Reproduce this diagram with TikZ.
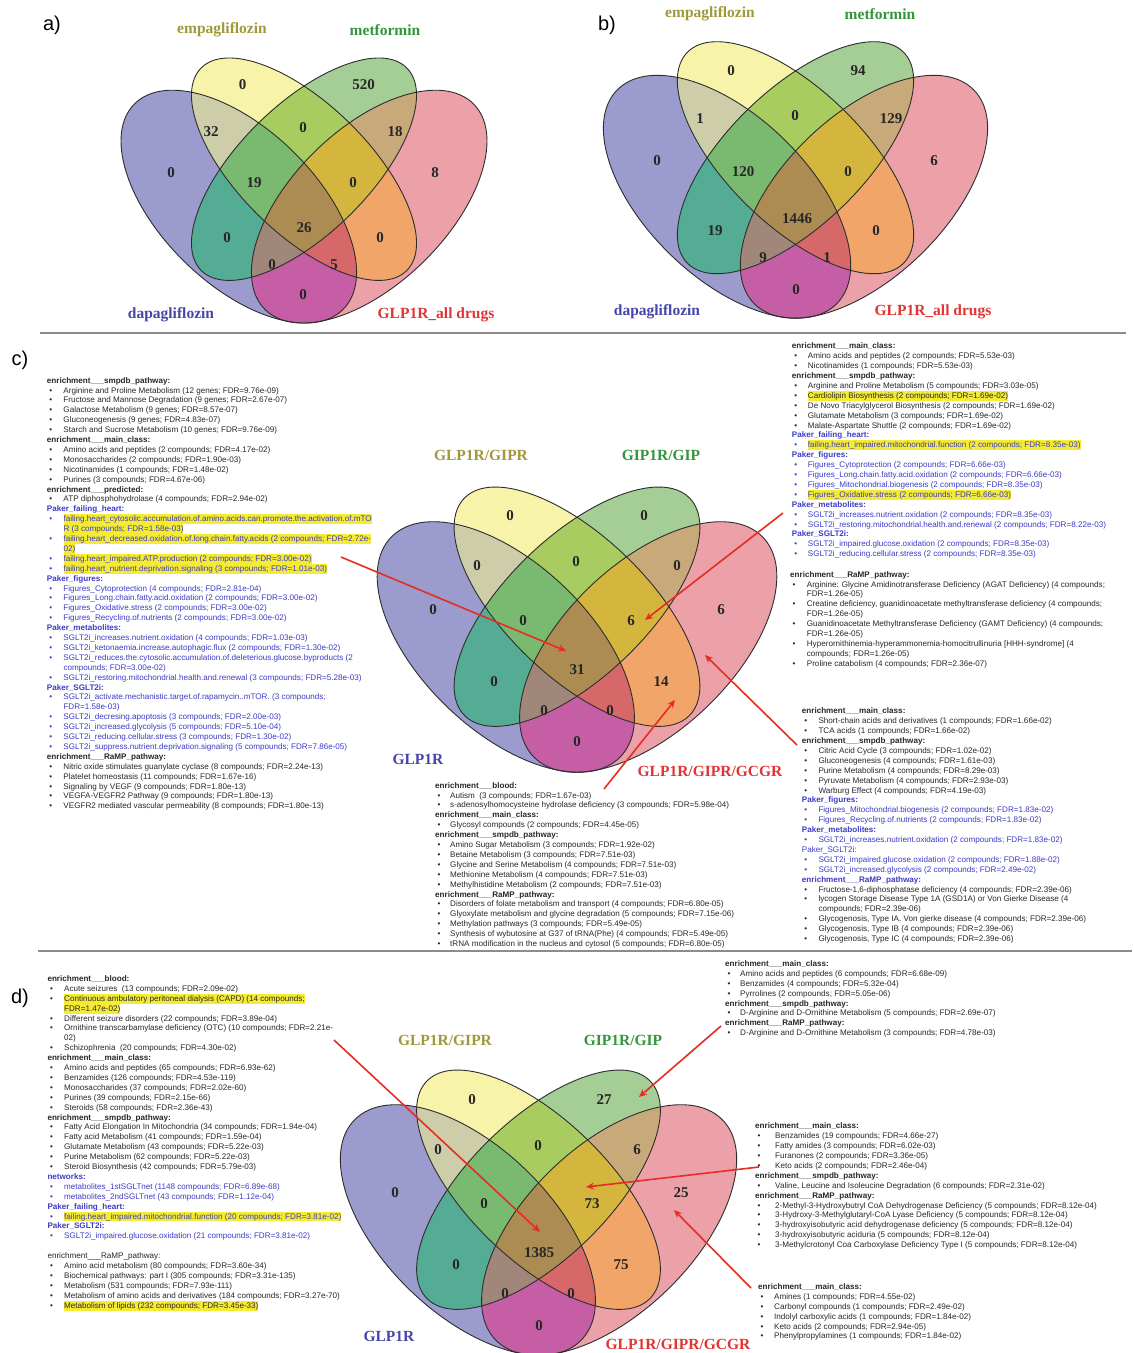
\documentclass[tikz,border=0pt]{standalone}
\usepackage{fontspec}
\setmainfont{Liberation Sans}
\newfontfamily\serifb{Liberation Serif}
\usetikzlibrary{arrows.meta}
% region colours
\definecolor{cB}{RGB}{155,155,205}
\definecolor{cY}{RGB}{247,244,170}
\definecolor{cG}{RGB}{165,205,150}
\definecolor{cP}{RGB}{236,160,168}
\definecolor{cBY}{RGB}{205,205,170}
\definecolor{cBG}{RGB}{85,172,148}
\definecolor{cBP}{RGB}{198,94,165}
\definecolor{cYG}{RGB}{168,204,96}
\definecolor{cYP}{RGB}{242,165,105}
\definecolor{cGP}{RGB}{200,170,122}
\definecolor{cBYG}{RGB}{122,186,112}
\definecolor{cBYP}{RGB}{214,104,106}
\definecolor{cBGP}{RGB}{160,135,122}
\definecolor{cYGP}{RGB}{212,182,62}
\definecolor{cBYGP}{RGB}{172,140,82}
\definecolor{lolive}{RGB}{160,152,58}
\definecolor{lgreen}{RGB}{52,150,60}
\definecolor{lblue}{RGB}{70,70,170}
\definecolor{lred}{RGB}{226,52,52}
\definecolor{tdark}{RGB}{40,40,40}
\definecolor{tblue}{RGB}{60,60,200}
\definecolor{hly}{RGB}{245,235,50}
\definecolor{ared}{RGB}{230,45,35}
\definecolor{sepgray}{RGB}{140,140,140}
\definecolor{vline}{RGB}{45,45,45}
\newlength\xind
\setlength\xind{16.5pt}
\newcommand\xbk[1]{\makebox[\xind][l]{\hspace{2.5pt}\textbullet}#1}
\newcommand\xbb[1]{{\color{tblue}\makebox[\xind][l]{\hspace{2.5pt}\textbullet}#1}}
\newcommand\xck[1]{\hspace*{\xind}#1}
\newcommand\xcb[1]{{\color{tblue}\hspace*{\xind}#1}}
\newcommand\xhk[1]{\textbf{#1}}
\newcommand\xhb[1]{{\color{tblue}\bfseries #1}}
\newcommand\xhl[1]{\setbox0=\hbox{#1}\rlap{\color{hly}\rule[-2.4pt]{\wd0}{9.8pt}}\box0}
% ellipse paths (units of 1/100, centre of inner ellipses at origin, y down)
\def\pB{(-15.5,9) ellipse [x radius=35, y radius=18.5, rotate=-45]}
\def\pP{(15.5,9) ellipse [x radius=35, y radius=18.5, rotate=45]}
\def\pY{(0,0) ellipse [x radius=34.5, y radius=15.5, rotate=-45]}
\def\pG{(0,0) ellipse [x radius=34.5, y radius=15.5, rotate=45]}
\newcommand\vtwo[3]{\begin{scope}\clip#2;\clip#3;\fill[#1](-60,-60) rectangle (60,60);\end{scope}}
\newcommand\vthree[4]{\begin{scope}\clip#2;\clip#3;\clip#4;\fill[#1](-60,-60) rectangle (60,60);\end{scope}}
\newcommand\fourvenn[4]{%
\begin{scope}[shift={(#1,#2)},xscale=#3,yscale=#4]
\fill[cB]\pB; \fill[cY]\pY; \fill[cG]\pG; \fill[cP]\pP;
\vtwo{cBY}{\pB}{\pY}
\vtwo{cBG}{\pB}{\pG}
\vtwo{cBP}{\pB}{\pP}
\vtwo{cYG}{\pY}{\pG}
\vtwo{cYP}{\pY}{\pP}
\vtwo{cGP}{\pG}{\pP}
\vthree{cBYG}{\pB}{\pY}{\pG}
\vthree{cBYP}{\pB}{\pY}{\pP}
\vthree{cBGP}{\pB}{\pG}{\pP}
\vthree{cYGP}{\pY}{\pG}{\pP}
\begin{scope}\clip\pB;\clip\pY;\clip\pG;\clip\pP;\fill[cBYGP](-60,-60) rectangle (60,60);\end{scope}
\draw[vedge]\pB; \draw[vedge]\pY; \draw[vedge]\pG; \draw[vedge]\pP;
\end{scope}}
\begin{document}
\begin{tikzpicture}[x=1pt,y=-1pt,
  vedge/.style={draw=vline,line width=0.9pt},
  vnum/.style={font=\serifb\bfseries\fontsize{15}{15}\selectfont,text=black!85,inner sep=0pt},
  vlab/.style={font=\serifb\bfseries\fontsize{15.5}{16}\selectfont,inner sep=0pt},
  plab/.style={font=\fontsize{20}{20}\selectfont,inner sep=0pt},
  tblock/.style={anchor=north west,inner sep=0pt,align=left,text=tdark,font={\fontsize{8.1}{9.9}\selectfont\setlength{\xind}{#1}}},
  tblock/.default=16.5pt,
  arr/.style={draw=ared,line width=1.6pt,-{Stealth[length=8pt,width=7pt]}},
  sepline/.style={draw=sepgray,line width=1.2pt}]
\useasboundingbox (0,0) rectangle (1134,1353);
\fill[white] (0,0) rectangle (1134,1353);
% separators
\coordinate (s1a) at (40,333); \coordinate (s1b) at (1126,333);
\coordinate (s2a) at (38,951); \coordinate (s2b) at (1132,951);
\draw[sepline] (s1a) -- (s1b);
\draw[sepline] (s2a) -- (s2b);
% panel letters
\node[plab] (pa) at (52,25) {a)};
\node[plab] (pb) at (607,25) {b)};
\node[plab] (pc) at (20,360) {c)};
\node[plab] (pd) at (20,998) {d)};
% ---------- Venn a
\fourvenn{304}{169.2}{4.207}{4.158}
\node[vnum] (a1) at (242.7,85) {0};
\node[vnum] (a2) at (363.5,85) {520};
\node[vnum] (a3) at (211,132) {32};
\node[vnum] (a4) at (303,128) {0};
\node[vnum] (a5) at (395,132) {18};
\node[vnum] (a6) at (171,173) {0};
\node[vnum] (a7) at (254,183) {19};
\node[vnum] (a8) at (353,183) {0};
\node[vnum] (a9) at (435,173) {8};
\node[vnum] (a10) at (304,228) {26};
\node[vnum] (a11) at (227,238) {0};
\node[vnum] (a12) at (380,238) {0};
\node[vnum] (a13) at (272,265) {0};
\node[vnum] (a14) at (334,265) {5};
\node[vnum] (a15) at (303,295) {0};
\node[vlab,text=lolive] (la1) at (222,30) {empagliflozin};
\node[vlab,text=lgreen] (la2) at (385,30) {metformin};
\node[vlab,text=lblue] (la3) at (171,315) {dapagliflozin};
\node[vlab,text=lred] (la4) at (436,315) {GLP1R\_all drugs};
% ---------- Venn b
\fourvenn{795.5}{157.7}{4.417}{4.337}
\node[vnum] (b1) at (731,71) {0};
\node[vnum] (b2) at (858,71) {94};
\node[vnum] (b3) at (700,119) {1};
\node[vnum] (b4) at (795,116) {0};
\node[vnum] (b5) at (891,119) {129};
\node[vnum] (b6) at (657,161) {0};
\node[vnum] (b7) at (743,172) {120};
\node[vnum] (b8) at (848,172) {0};
\node[vnum] (b9) at (934,161) {6};
\node[vnum] (b10) at (797,219) {1446};
\node[vnum] (b11) at (715,231) {19};
\node[vnum] (b12) at (876,231) {0};
\node[vnum] (b13) at (763,258) {9};
\node[vnum] (b14) at (827,258) {1};
\node[vnum] (b15) at (796,290) {0};
\node[vlab,text=lolive] (lb1) at (710,14) {empagliflozin};
\node[vlab,text=lgreen] (lb2) at (880,14) {metformin};
\node[vlab,text=lblue] (lb3) at (657,312) {dapagliflozin};
\node[vlab,text=lred] (lb4) at (933,312) {GLP1R\_all drugs};
% ---------- Venn c
\fourvenn{577}{606.7}{4.594}{4.474}
\node[vnum] (c1) at (510,516) {0};
\node[vnum] (c2) at (644,516) {0};
\node[vnum] (c3) at (477,566) {0};
\node[vnum] (c4) at (576,562) {0};
\node[vnum] (c5) at (677,566) {0};
\node[vnum] (c6) at (433,610) {0};
\node[vnum] (c7) at (523,621) {0};
\node[vnum] (c8) at (631,621) {6};
\node[vnum] (c9) at (721,610) {6};
\node[vnum] (c10) at (577,670) {31};
\node[vnum] (c11) at (494,682) {0};
\node[vnum] (c12) at (661,682) {14};
\node[vnum] (c13) at (544,711) {0};
\node[vnum] (c14) at (610,711) {0};
\node[vnum] (c15) at (577,742) {0};
\node[vlab,text=lolive] (lc1) at (481,455) {GLP1R/GIPR};
\node[vlab,text=lgreen] (lc2) at (661,455) {GIP1R/GIP};
\node[vlab,text=lblue] (lc3) at (418,759) {GLP1R};
\node[vlab,text=lred] (lc4) at (710,771) {GLP1R/GIPR/GCGR};
% ---------- Venn d
\fourvenn{538.5}{1189.7}{4.556}{4.474}
\node[vnum] (d1) at (472,1100) {0};
\node[vnum] (d2) at (604,1100) {27};
\node[vnum] (d3) at (438,1150) {0};
\node[vnum] (d4) at (538,1146) {0};
\node[vnum] (d5) at (637,1150) {6};
\node[vnum] (d6) at (395,1193) {0};
\node[vnum] (d7) at (484,1204) {0};
\node[vnum] (d8) at (592,1204) {73};
\node[vnum] (d9) at (681,1193) {25};
\node[vnum] (d10) at (539,1253) {1385};
\node[vnum] (d11) at (456,1265) {0};
\node[vnum] (d12) at (621,1265) {75};
\node[vnum] (d13) at (505,1294) {0};
\node[vnum] (d14) at (571,1294) {0};
\node[vnum] (d15) at (539,1326) {0};
\node[vlab,text=lolive] (ld1) at (445,1040) {GLP1R/GIPR};
\node[vlab,text=lgreen] (ld2) at (623,1040) {GIP1R/GIP};
\node[vlab,text=lblue] (ld3) at (389,1336) {GLP1R};
\node[vlab,text=lred] (ld4) at (678,1344) {GLP1R/GIPR/GCGR};
% ---------- text blocks panel c
\node[tblock=16.6pt] (cL) at (46.7,377.1) {%
\xhk{enrichment\_\_\_smpdb\_pathway:}\\
\xbk{Arginine and Proline Metabolism (12 genes; FDR=9.76e-09)}\\
\xbk{Fructose and Mannose Degradation (9 genes; FDR=2.67e-07)}\\
\xbk{Galactose Metabolism (9 genes; FDR=8.57e-07)}\\
\xbk{Gluconeogenesis (9 genes; FDR=4.83e-07)}\\
\xbk{Starch and Sucrose Metabolism (10 genes; FDR=9.76e-09)}\\
\xhk{enrichment\_\_\_main\_class:}\\
\xbk{Amino acids and peptides (2 compounds; FDR=4.17e-02)}\\
\xbk{Monosaccharides (2 compounds; FDR=1.90e-03)}\\
\xbk{Nicotinamides (1 compounds; FDR=1.48e-02)}\\
\xbk{Purines (3 compounds; FDR=4.67e-06)}\\
\xhk{enrichment\_\_\_predicted:}\\
\xbk{ATP diphosphohydrolase (4 compounds; FDR=2.94e-02)}\\
\xhb{Paker\_failing\_heart:}\\
\xbb{\xhl{failing.heart\_cytosolic.accumulation.of.amino.acids.can.promote.the.activation.of.mTO}}\\
\xcb{\xhl{R (3 compounds; FDR=1.58e-03)}}\\
\xbb{\xhl{failing.heart\_decreased.oxidation.of.long.chain.fatty.acids (2 compounds; FDR=2.72e-}}\\
\xcb{\xhl{02)}}\\
\xbb{\xhl{failing.heart\_impaired.ATP.production (2 compounds; FDR=3.00e-02)}}\\
\xbb{\xhl{failing.heart\_nutrient.deprivation.signaling (3 compounds; FDR=1.01e-03)}}\\
\xhb{Paker\_figures:}\\
\xbb{Figures\_Cytoprotection (4 compounds; FDR=2.81e-04)}\\
\xbb{Figures\_Long.chain.fatty.acid.oxidation (2 compounds; FDR=3.00e-02)}\\
\xbb{Figures\_Oxidative.stress (2 compounds; FDR=3.00e-02)}\\
\xbb{Figures\_Recycling.of.nutrients (2 compounds; FDR=3.00e-02)}\\
\xhb{Paker\_metabolites:}\\
\xbb{SGLT2i\_increases.nutrient.oxidation (4 compounds; FDR=1.03e-03)}\\
\xbb{SGLT2i\_ketonaemia.increase.autophagic.flux (2 compounds; FDR=1.30e-02)}\\
\xbb{SGLT2i\_reduces.the.cytosolic.accumulation.of.deleterious.glucose.byproducts (2}\\
\xcb{compounds; FDR=3.00e-02)}\\
\xbb{SGLT2i\_restoring.mitochondrial.health.and.renewal (3 compounds; FDR=5.28e-03)}\\
\xhb{Paker\_SGLT2i:}\\
\xbb{SGLT2i\_activate.mechanistic.target.of.rapamycin..mTOR. (3 compounds;}\\
\xcb{FDR=1.58e-03)}\\
\xbb{SGLT2i\_decresing.apoptosis (3 compounds; FDR=2.00e-03)}\\
\xbb{SGLT2i\_increased.glycolysis (5 compounds; FDR=5.10e-04)}\\
\xbb{SGLT2i\_reducing.cellular.stress (3 compounds; FDR=1.30e-02)}\\
\xbb{SGLT2i\_suppress.nutrient.deprivation.signaling (5 compounds; FDR=7.86e-05)}\\
\xhk{enrichment\_\_\_RaMP\_pathway:}\\
\xbk{Nitric oxide stimulates guanylate cyclase (8 compounds; FDR=2.24e-13)}\\
\xbk{Platelet homeostasis (11 compounds; FDR=1.67e-16)}\\
\xbk{Signaling by VEGF (9 compounds; FDR=1.80e-13)}\\
\xbk{VEGFA-VEGFR2 Pathway (9 compounds; FDR=1.80e-13)}\\
\xbk{VEGFR2 mediated vascular permeability (8 compounds; FDR=1.80e-13)}};
\node[tblock=16pt] (cTR) at (791.7,342.8) {%
\xhk{enrichment\_\_\_main\_class:}\\
\xbk{Amino acids and peptides (2 compounds; FDR=5.53e-03)}\\
\xbk{Nicotinamides (1 compounds; FDR=5.53e-03)}\\
\xhk{enrichment\_\_\_smpdb\_pathway:}\\
\xbk{Arginine and Proline Metabolism (5 compounds; FDR=3.03e-05)}\\
\xbk{\xhl{Cardiolipin Biosynthesis (2 compounds; FDR=1.69e-02)}}\\
\xbk{De Novo Triacylglycerol Biosynthesis (2 compounds; FDR=1.69e-02)}\\
\xbk{Glutamate Metabolism (3 compounds; FDR=1.69e-02)}\\
\xbk{Malate-Aspartate Shuttle (2 compounds; FDR=1.69e-02)}\\
\xhb{Paker\_failing\_heart:}\\
\xbb{\xhl{failing.heart\_impaired.mitochondrial.function (2 compounds; FDR=8.35e-03)}}\\
\xhb{Paker\_figures:}\\
\xbb{Figures\_Cytoprotection (2 compounds; FDR=6.66e-03)}\\
\xbb{Figures\_Long.chain.fatty.acid.oxidation (2 compounds; FDR=6.66e-03)}\\
\xbb{Figures\_Mitochondrial.biogenesis (2 compounds; FDR=8.35e-03)}\\
\xbb{\xhl{Figures\_Oxidative.stress (2 compounds; FDR=6.66e-03)}}\\
\xhb{Paker\_metabolites:}\\
\xbb{SGLT2i\_increases.nutrient.oxidation (2 compounds; FDR=8.35e-03)}\\
\xbb{SGLT2i\_restoring.mitochondrial.health.and.renewal (2 compounds; FDR=8.22e-03)}\\
\xhb{Paker\_SGLT2i:}\\
\xbb{SGLT2i\_impaired.glucose.oxidation (2 compounds; FDR=8.35e-03)}\\
\xbb{SGLT2i\_reducing.cellular.stress (2 compounds; FDR=8.35e-03)}};
\node[tblock=16.7pt] (cRM) at (790,571.1) {%
\xhk{enrichment\_\_\_RaMP\_pathway:}\\
\xbk{Arginine: Glycine Amidinotransferase Deficiency (AGAT Deficiency) (4 compounds;}\\
\xck{FDR=1.26e-05)}\\
\xbk{Creatine deficiency, guanidinoacetate methyltransferase deficiency (4 compounds;}\\
\xck{FDR=1.26e-05)}\\
\xbk{Guanidinoacetate Methyltransferase Deficiency (GAMT Deficiency) (4 compounds;}\\
\xck{FDR=1.26e-05)}\\
\xbk{Hyperornithinemia-hyperammonemia-homocitrullinuria [HHH-syndrome] (4}\\
\xck{compounds; FDR=1.26e-05)}\\
\xbk{Proline catabolism (4 compounds; FDR=2.36e-07)}};
\node[tblock=16.6pt] (cBR) at (801.7,707.8) {%
\xhk{enrichment\_\_\_main\_class:}\\
\xbk{Short-chain acids and derivatives (1 compounds; FDR=1.66e-02)}\\
\xbk{TCA acids (1 compounds; FDR=1.66e-02)}\\
\xhk{enrichment\_\_\_smpdb\_pathway:}\\
\xbk{Citric Acid Cycle (3 compounds; FDR=1.02e-02)}\\
\xbk{Gluconeogenesis (4 compounds; FDR=1.61e-03)}\\
\xbk{Purine Metabolism (4 compounds; FDR=8.29e-03)}\\
\xbk{Pyruvate Metabolism (4 compounds; FDR=2.93e-03)}\\
\xbk{Warburg Effect (4 compounds; FDR=4.19e-03)}\\
\xhb{Paker\_figures:}\\
\xbb{Figures\_Mitochondrial.biogenesis (2 compounds; FDR=1.83e-02)}\\
\xbb{Figures\_Recycling.of.nutrients (2 compounds; FDR=1.83e-02)}\\
\xhb{Paker\_metabolites:}\\
\xbb{SGLT2i\_increases.nutrient.oxidation (2 compounds; FDR=1.83e-02)}\\
{\color{tblue}Paker\_SGLT2i:}\\
\xbb{SGLT2i\_impaired.glucose.oxidation (2 compounds; FDR=1.88e-02)}\\
\xbb{SGLT2i\_increased.glycolysis (2 compounds; FDR=2.49e-02)}\\
\xhb{enrichment\_\_\_RaMP\_pathway:}\\
\xbk{Fructose-1,6-diphosphatase deficiency (4 compounds; FDR=2.39e-06)}\\
\xbk{lycogen Storage Disease Type 1A (GSD1A) or Von Gierke Disease (4}\\
\xck{compounds; FDR=2.39e-06)}\\
\xbk{Glycogenosis, Type IA. Von gierke disease (4 compounds; FDR=2.39e-06)}\\
\xbk{Glycogenosis, Type IB (4 compounds; FDR=2.39e-06)}\\
\xbk{Glycogenosis, Type IC (4 compounds; FDR=2.39e-06)}};
\node[tblock=15pt] (cBM) at (435,782.1) {%
\xhk{enrichment\_\_\_blood:}\\
\xbk{Autism\ \ (3 compounds; FDR=1.67e-03)}\\
\xbk{s-adenosylhomocysteine hydrolase deficiency (3 compounds; FDR=5.98e-04)}\\
\xhk{enrichment\_\_\_main\_class:}\\
\xbk{Glycosyl compounds (2 compounds; FDR=4.45e-05)}\\
\xhk{enrichment\_\_\_smpdb\_pathway:}\\
\xbk{Amino Sugar Metabolism (3 compounds; FDR=1.92e-02)}\\
\xbk{Betaine Metabolism (3 compounds; FDR=7.51e-03)}\\
\xbk{Glycine and Serine Metabolism (4 compounds; FDR=7.51e-03)}\\
\xbk{Methionine Metabolism (4 compounds; FDR=7.51e-03)}\\
\xbk{Methylhistidine Metabolism (2 compounds; FDR=7.51e-03)}\\
\xhk{enrichment\_\_\_RaMP\_pathway:}\\
\xbk{Disorders of folate metabolism and transport (4 compounds; FDR=6.80e-05)}\\
\xbk{Glyoxylate metabolism and glycine degradation (5 compounds; FDR=7.15e-06)}\\
\xbk{Methylation pathways (3 compounds; FDR=5.49e-05)}\\
\xbk{Synthesis of wybutosine at G37 of tRNA(Phe) (4 compounds; FDR=5.49e-05)}\\
\xbk{tRNA modification in the nucleus and cytosol (5 compounds; FDR=6.80e-05)}};
% ---------- text blocks panel d
\node[tblock=16.7pt] (dL) at (47.3,975.4) {%
\xhk{enrichment\_\_\_blood:}\\
\xbk{Acute seizures\ \ (13 compounds; FDR=2.09e-02)}\\
\xbk{\xhl{Continuous ambulatory peritoneal dialysis (CAPD) (14 compounds;}}\\
\xck{\xhl{FDR=1.47e-02)}}\\
\xbk{Different seizure disorders (22 compounds; FDR=3.89e-04)}\\
\xbk{Ornithine transcarbamylase deficiency (OTC) (10 compounds; FDR=2.21e-}\\
\xck{02)}\\
\xbk{Schizophrenia\ \ (20 compounds; FDR=4.30e-02)}\\
\xhk{enrichment\_\_\_main\_class:}\\
\xbk{Amino acids and peptides (65 compounds; FDR=6.93e-62)}\\
\xbk{Benzamides (126 compounds; FDR=4.53e-119)}\\
\xbk{Monosaccharides (37 compounds; FDR=2.02e-60)}\\
\xbk{Purines (39 compounds; FDR=2.15e-66)}\\
\xbk{Steroids (58 compounds; FDR=2.36e-43)}\\
\xhk{enrichment\_\_\_smpdb\_pathway:}\\
\xbk{Fatty Acid Elongation In Mitochondria (34 compounds; FDR=1.94e-04)}\\
\xbk{Fatty acid Metabolism (41 compounds; FDR=1.59e-04)}\\
\xbk{Glutamate Metabolism (43 compounds; FDR=5.22e-03)}\\
\xbk{Purine Metabolism (62 compounds; FDR=5.22e-03)}\\
\xbk{Steroid Biosynthesis (42 compounds; FDR=5.79e-03)}\\
\xhb{networks:}\\
\xbb{metabolites\_1stSGLTnet (1148 compounds; FDR=6.89e-68)}\\
\xbb{metabolites\_2ndSGLTnet (43 compounds; FDR=1.12e-04)}\\
\xhb{Paker\_failing\_heart:}\\
\xbb{\xhl{failing.heart\_impaired.mitochondrial.function (20 compounds; FDR=3.81e-02)}}\\
\xhb{Paker\_SGLT2i:}\\
\xbb{SGLT2i\_impaired.glucose.oxidation (21 compounds; FDR=3.81e-02)}\\
\mbox{}\\
enrichment\_\_\_RaMP\_pathway:\\
\xbk{Amino acid metabolism (80 compounds; FDR=3.60e-34)}\\
\xbk{Biochemical pathways: part I (305 compounds; FDR=3.31e-135)}\\
\xbk{Metabolism (531 compounds; FDR=7.93e-111)}\\
\xbk{Metabolism of amino acids and derivatives (184 compounds; FDR=3.27e-70)}\\
\xbk{\xhl{Metabolism of lipids (232 compounds; FDR=3.45e-33)}}};
\node[tblock=15pt] (dTR) at (725,960.4) {%
\xhk{enrichment\_\_\_main\_class:}\\
\xbk{Amino acids and peptides (6 compounds; FDR=6.68e-09)}\\
\xbk{Benzamides (4 compounds; FDR=5.32e-04)}\\
\xbk{Pyrrolines (2 compounds; FDR=5.05e-06)}\\
\xhk{enrichment\_\_\_smpdb\_pathway:}\\
\xbk{D-Arginine and D-Ornithine Metabolism (5 compounds; FDR=2.69e-07)}\\
\xhk{enrichment\_\_\_RaMP\_pathway:}\\
\xbk{D-Arginine and D-Ornithine Metabolism (3 compounds; FDR=4.78e-03)}};
\node[tblock=20pt] (dMR) at (755,1122.8) {%
\xhk{enrichment\_\_\_main\_class:}\\
\xbk{Benzamides (19 compounds; FDR=4.66e-27)}\\
\xbk{Fatty amides (3 compounds; FDR=6.02e-03)}\\
\xbk{Furanones (2 compounds; FDR=3.36e-05)}\\
\xbk{Keto acids (2 compounds; FDR=2.46e-04)}\\
\xhk{enrichment\_\_\_smpdb\_pathway:}\\
\xbk{Valine, Leucine and Isoleucine Degradation (6 compounds; FDR=2.31e-02)}\\
\xhk{enrichment\_\_\_RaMP\_pathway:}\\
\xbk{2-Methyl-3-Hydroxybutryl CoA Dehydrogenase Deficiency (5 compounds; FDR=8.12e-04)}\\
\xbk{3-Hydroxy-3-Methylglutaryl-CoA Lyase Deficiency (5 compounds; FDR=8.12e-04)}\\
\xbk{3-hydroxyisobutyric acid dehydrogenase deficiency (5 compounds; FDR=8.12e-04)}\\
\xbk{3-hydroxyisobutyric aciduria (5 compounds; FDR=8.12e-04)}\\
\xbk{3-Methylcrotonyl Coa Carboxylase Deficiency Type I (5 compounds; FDR=8.12e-04)}};
\node[tblock=16pt] (dBR) at (758,1283.4) {%
\xhk{enrichment\_\_\_main\_class:}\\
\xbk{Amines (1 compounds; FDR=4.55e-02)}\\
\xbk{Carbonyl compounds (1 compounds; FDR=2.49e-02)}\\
\xbk{Indolyl carboxylic acids (1 compounds; FDR=1.84e-02)}\\
\xbk{Keto acids (2 compounds; FDR=2.94e-05)}\\
\xbk{Phenylpropylamines (1 compounds; FDR=1.84e-02)}};
% ---------- arrows
\coordinate (ac1s) at (341,557); \coordinate (ac1e) at (566,651);
\coordinate (ac2s) at (783,513); \coordinate (ac2e) at (645,620);
\coordinate (ac3s) at (797,745); \coordinate (ac3e) at (705,655);
\coordinate (ac4s) at (604,789); \coordinate (ac4e) at (675,700);
\coordinate (ad1s) at (334,1040); \coordinate (ad1e) at (540,1232);
\coordinate (ad2s) at (721,1026); \coordinate (ad2e) at (639,1097);
\coordinate (ad3s) at (759,1167); \coordinate (ad3e) at (586,1187);
\coordinate (ad4s) at (751,1288); \coordinate (ad4e) at (674,1210);
\draw[arr] (ac1s) -- (ac1e);
\draw[arr] (ac2s) -- (ac2e);
\draw[arr] (ac3s) -- (ac3e);
\draw[arr] (ac4s) -- (ac4e);
\draw[arr] (ad1s) -- (ad1e);
\draw[arr] (ad2s) -- (ad2e);
\draw[arr] (ad3s) -- (ad3e);
\draw[arr] (ad4s) -- (ad4e);
\end{tikzpicture}
\end{document}
